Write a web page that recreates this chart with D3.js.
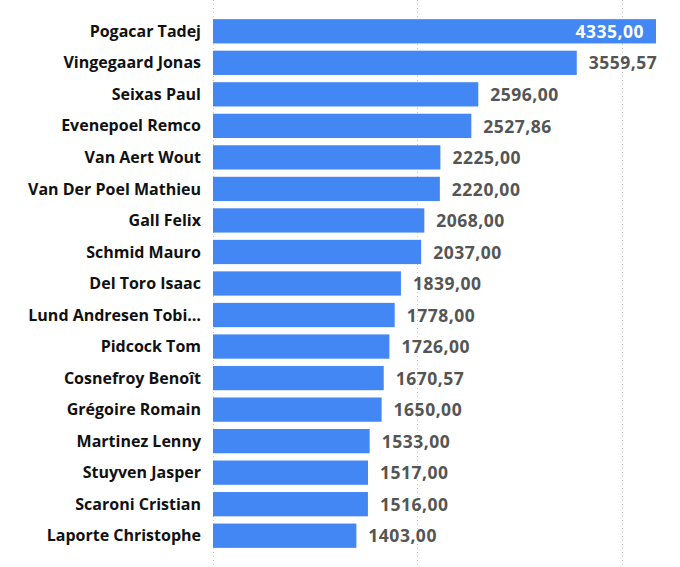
<!DOCTYPE html>
<html>
<head>
    <meta charset="UTF-8">
    <title>Riders</title>
    <script src="https://d3js.org/d3.v7.min.js"></script>
    <style>
        body { margin: 0; background: white; }
        text { font-family: "Open Sans", "Noto Sans", sans-serif; }
    </style>
</head>
<body>
<div id="chart"></div>
<script>
    // riders, top to bottom
    var riders = ["Pogacar Tadej", "Vingegaard Jonas", "Seixas Paul", "Evenepoel Remco",
        "Van Aert Wout", "Van Der Poel Mathieu", "Gall Felix", "Schmid Mauro",
        "Del Toro Isaac", "Lund Andresen Tobi\u2026", "Pidcock Tom", "Cosnefroy Beno\u00eet",
        "Gr\u00e9goire Romain", "Martinez Lenny", "Stuyven Jasper", "Scaroni Cristian",
        "Laporte Christophe"];

    // points per rider
    var points = [4335.00, 3559.57, 2596.00, 2527.86, 2225.00, 2220.00, 2068.00, 2037.00,
        1839.00, 1778.00, 1726.00, 1670.57, 1650.00, 1533.00, 1517.00, 1516.00, 1403.00];

    // gridline values
    var gridTicks = [0, 2000, 4000];

    var width = 680, height = 567;
    var left = 213;

    var svg = d3.select("#chart").append("svg")
        .attr("width", width)
        .attr("height", height);

    var xScale = d3.scaleLinear()
        .domain([0, 4335])
        .range([left, 656]);

    var yScale = d3.scaleBand()
        .domain(riders)
        .range([16, 551])
        .paddingInner(0.23)
        .paddingOuter(0.1);

    // dotted gridlines
    svg.selectAll("line.grid")
        .data(gridTicks)
        .enter()
        .append("line")
            .attr("class", "grid")
            .attr("x1", d => Math.round(xScale(d)) + 0.5)
            .attr("x2", d => Math.round(xScale(d)) + 0.5)
            .attr("y1", 0)
            .attr("y2", height)
            .attr("stroke", "#c8c8c8")
            .attr("stroke-width", 1)
            .attr("stroke-dasharray", "1,3");

    // bars
    svg.selectAll("rect")
        .data(points)
        .enter()
        .append("rect")
            .attr("x", xScale(0))
            .attr("y", (d, i) => yScale(riders[i]))
            .attr("width", d => xScale(d) - xScale(0))
            .attr("height", yScale.bandwidth())
            .attr("fill", "#4287f3");

    // rider names
    svg.selectAll("text.name")
        .data(riders)
        .enter()
        .append("text")
            .attr("class", "name")
            .attr("x", 201)
            .attr("y", d => yScale(d) + yScale.bandwidth() / 2)
            .attr("dy", "0.35em")
            .attr("text-anchor", "end")
            .attr("font-size", "16px")
            .attr("font-weight", "bold")
            .attr("fill", "#111")
            .text(d => d);

    // value labels, first one sits inside the bar
    var fmt = d => d.toFixed(2).replace(".", ",");
    svg.selectAll("text.value")
        .data(points)
        .enter()
        .append("text")
            .attr("class", "value")
            .attr("x", (d, i) => i == 0 ? xScale(d) - 12 : xScale(d) + 12)
            .attr("y", (d, i) => yScale(riders[i]) + yScale.bandwidth() / 2)
            .attr("dy", "0.38em")
            .attr("text-anchor", (d, i) => i == 0 ? "end" : "start")
            .attr("font-size", "17.5px")
            .attr("letter-spacing", "0.5px")
            .attr("font-weight", "bold")
            .attr("fill", (d, i) => i == 0 ? "white" : "#555")
            .text(fmt);
</script>
</body>
</html>
